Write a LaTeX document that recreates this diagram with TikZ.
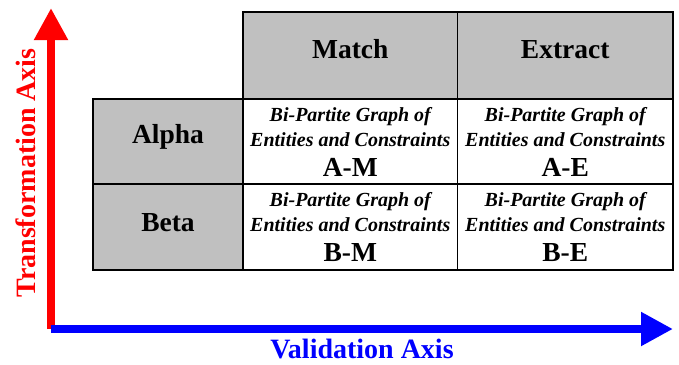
\documentclass[tikz,border=0pt]{standalone}
\usepackage{fontspec}
\setmainfont{Liberation Serif}
\usetikzlibrary{arrows.meta}
\definecolor{cellgray}{RGB}{192,192,192}
\begin{document}
\begin{tikzpicture}[x=1pt,y=-1pt,
  cell/.style={draw=black, line width=1.6pt, rectangle, inner sep=0pt,
    outer sep=0pt, anchor=north west},
  headcell/.style={cell, fill=cellgray},
  bodycell/.style={cell, fill=white},
  bigtext/.style={font=\fontsize{27.5}{30}\selectfont\bfseries, anchor=base,
    inner sep=0pt},
  smalltext/.style={font=\fontsize{20}{24}\selectfont\bfseries\itshape,
    anchor=base, inner sep=0pt},
  axis/.style={line width=8pt, line cap=butt,
    -{Triangle[length=32pt,width=32pt]}},
  axislabel/.style={font=\fontsize{28}{30}\selectfont\bfseries, anchor=base,
    inner sep=0pt},
]
\useasboundingbox (0,0) rectangle (679,364);

% header row
\node[headcell, minimum width=214.5pt, minimum height=87pt] (hm) at (243,12) {};
\node[headcell, minimum width=215.5pt, minimum height=87pt] (he) at (457.5,12) {};
% row labels
\node[headcell, minimum width=150pt, minimum height=85pt] (ra) at (93,99) {};
\node[headcell, minimum width=150pt, minimum height=86pt] (rb) at (93,184) {};
% body cells
\node[bodycell, minimum width=214.5pt, minimum height=85pt] (am) at (243,99) {};
\node[bodycell, minimum width=215.5pt, minimum height=85pt] (ae) at (457.5,99) {};
\node[bodycell, minimum width=214.5pt, minimum height=86pt] (bm) at (243,184) {};
\node[bodycell, minimum width=215.5pt, minimum height=86pt] (be) at (457.5,184) {};

% header and row texts
\node[bigtext] (tm) at (350.25,58) {Match};
\node[bigtext] (te) at (565.25,58) {Extract};
\node[bigtext] (ta) at (168,143) {Alpha};
\node[bigtext] (tb) at (168,231) {Beta};

% cell contents
\foreach \cx/\cy/\lab/\nm in {350.25/99/A-M/am, 565.25/99/A-E/ae,
                              350.25/184/B-M/bm, 565.25/184/B-E/be} {
  \node[smalltext] (\nm-1) at (\cx,\cy+22) {Bi-Partite Graph of};
  \node[smalltext] (\nm-2) at (\cx,\cy+47) {Entities and Constraints};
  \node[bigtext] (\nm-3) at (\cx,\cy+77) {\lab};
}

% axes
\coordinate (origin) at (51,329);
\coordinate (ttip) at (51,8);
\coordinate (vtip) at (673,329);
\draw[axis, red] (origin) -- (ttip);
\draw[axis, blue] (origin) -- (vtip);

\node[axislabel, red, rotate=90] (tlabel) at (35,173) {Transformation Axis};
\node[axislabel, blue] (vlabel) at (362,358.5) {Validation Axis};
\end{tikzpicture}
\end{document}
